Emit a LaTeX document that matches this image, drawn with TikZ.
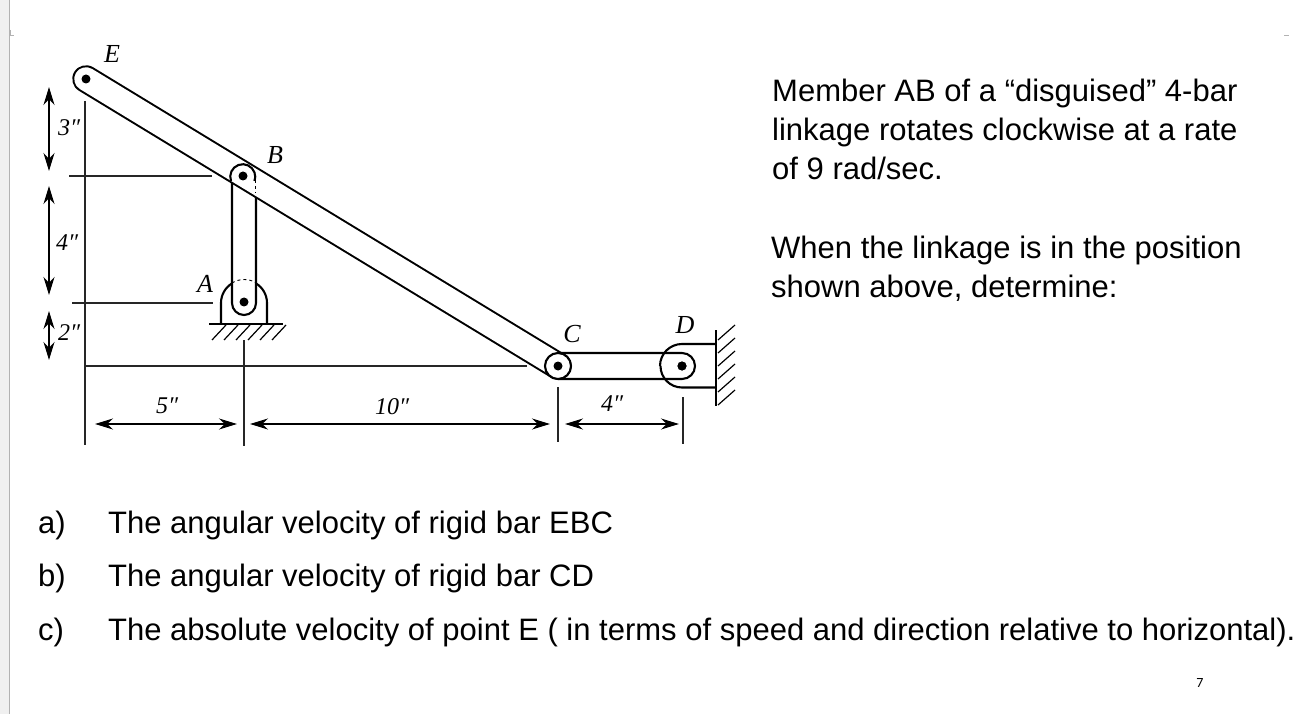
\documentclass[tikz,border=0pt]{standalone}
\usepackage{fontspec}
\setmainfont{Liberation Sans}
\newfontfamily\dimfont{Liberation Serif}
\newfontfamily\pagefont{Carlito}
\usetikzlibrary{arrows.meta,calc,positioning}

\tikzset{
    pin/.style={fill=black, circle, inner sep=0pt, minimum size=9pt},
    bar/.style={line width=2.1pt},
    extline/.style={line width=1.1pt, draw=black!85},
    dimline/.style={line width=1.4pt, {Stealth[length=18pt,width=11pt]}-{Stealth[length=18pt,width=11pt]}},
    dimlabel/.style={font=\dimfont\itshape\fontsize{24}{24}\selectfont, inner sep=0pt},
    ptlabel/.style={font=\dimfont\itshape\fontsize{26}{26}\selectfont, inner sep=0pt},
    body/.style={font=\fontsize{31}{39}\selectfont, align=left, anchor=north west, inner sep=0pt},
    item/.style={font=\fontsize{31}{31}\selectfont, anchor=base west, inner sep=0pt}
}

\begin{document}
\begin{tikzpicture}[x=1pt, y=-1pt]
    \useasboundingbox (0,0) rectangle (1302,714);
    % slide edge
    \fill[black!6] (0,0) rectangle (9,714);
    \draw[black!30, line width=0.8pt] (9.5,0) -- (9.5,714);
    \draw[black!30, line width=0.6pt] (10,35) -- (14,35) (10,30) -- (10,35);
    \draw[black!30, line width=0.6pt] (1284,35) -- (1289,35);

    % pins
    \node[pin] (E) at (86,79) {};
    \node[pin] (B) at (243,176) {};
    \node[pin] (A) at (244,302) {};
    \node[pin] (C) at (558,366) {};
    \node[pin] (D) at (682,366) {};

    % extension lines
    \coordinate (ext top) at (85,101);
    \coordinate (ext bottom) at (85,445);
    \coordinate (ext B) at (69,176);
    \coordinate (ext Bend) at (212,176);
    \coordinate (ext A) at (72,303);
    \coordinate (ext Aend) at (213,303);
    \coordinate (ext C) at (85,366);
    \coordinate (ext Cend) at (527,366);
    \coordinate (ext m top) at (244,340);
    \coordinate (ext m bottom) at (244,446);
    \coordinate (ext n top) at (558,387);
    \coordinate (ext n bottom) at (558,442);
    \coordinate (ext k top) at (683,397);
    \coordinate (ext k bottom) at (683,444);
    \draw[extline] (ext top) -- (ext bottom);
    \draw[extline] (ext B) -- (ext Bend);
    \draw[extline] (ext A) -- (ext Aend);
    \draw[extline] (ext C) -- (ext Cend);
    \draw[extline] (ext m top) -- (ext m bottom);
    \draw[extline] (ext n top) -- (ext n bottom);
    \draw[extline] (ext k top) -- (ext k bottom);

    % link AB with its base
    \draw[bar] (232,180) -- (232,303) arc[start angle=180, end angle=0, radius=12] -- (256,197);
    \draw[bar] (221,324) -- (221,303) arc[start angle=180, end angle=238, radius=23];
    \draw[bar] (267,324) -- (267,303) arc[start angle=0, end angle=-58, radius=23];
    \draw[line width=0.9pt, dashed] (232,283) arc[start angle=-122, end angle=-58, radius=23];
    \draw[line width=2.1pt] (209,324) -- (283,324);
    \foreach \hx in {212,224,...,272}
      \draw[line width=1.2pt] (\hx,340) -- (\hx+14,325);

    % link CD and its wall bracket
    \draw[bar] (558,353) -- (682,353) arc[start angle=-90, end angle=90, radius=13] -- (558,379);
    \draw[bar] (716,344) -- (682,344) arc[start angle=-90, end angle=-180, radius=22];
    \draw[bar] (716,387.5) -- (682,387.5) arc[start angle=90, end angle=180, radius=21.5];
    \draw[line width=2pt] (716,330) -- (716,406);
    \foreach \hy in {340,353,...,405}
      \draw[line width=1.2pt] (718,\hy) -- (735,\hy-15);

    % long bar
    \draw[line width=27.5pt, line cap=round] (E.center) -- (C.center);
    \draw[white, line width=23.5pt, line cap=round] (E.center) -- (C.center);
    \draw[bar] (231,181) arc[start angle=-200, end angle=20, radius=12.5];
    \draw[line width=1pt, dashed] (255.5,180) -- (255.5,193);
    \draw[bar, fill=white] (C) circle[radius=13];
    \node[pin] at (E.center) {};
    \node[pin] at (B.center) {};
    \node[pin] at (C.center) {};
    \node[pin] at (D.center) {};

    % dimensions
    \coordinate (v1) at (49,87);
    \coordinate (v2) at (49,171);
    \coordinate (v3) at (49,186);
    \coordinate (v4) at (49,295);
    \coordinate (v5) at (49,311);
    \coordinate (v6) at (49,360);
    \coordinate (h1) at (95,424);
    \coordinate (h2) at (237,424);
    \coordinate (h3) at (250,424);
    \coordinate (h4) at (550,424);
    \coordinate (h5) at (565,424);
    \coordinate (h6) at (679,424);
    \draw[dimline] (v1) -- (v2);
    \draw[dimline] (v3) -- (v4);
    \draw[dimline] (v5) -- (v6);
    \draw[dimline] (h1) -- (h2);
    \draw[dimline] (h3) -- (h4);
    \draw[dimline] (h5) -- (h6);

    % labels
    \node[dimlabel] (dim3) at (69,128) {3″};
    \node[dimlabel] (dim4) at (67,243) {4″};
    \node[dimlabel] (dim2) at (69,333) {2″};
    \node[dimlabel] (dim5) at (167,406) {5″};
    \node[dimlabel] (dim10) at (392,407) {10″};
    \node[dimlabel] (dim4b) at (612,404) {4″};
    \node[ptlabel] (labelE) at (112,54) {E};
    \node[ptlabel] (labelB) at (275,155) {B};
    \node[ptlabel] (labelA) at (205,284) {A};
    \node[ptlabel] (labelC) at (572,334) {C};
    \node[ptlabel] (labelD) at (685,325) {D};

    % text
    \node[body] (intro) at (772,79) {Member AB of a “disguised” 4-bar\\linkage rotates clockwise at a rate\\of 9 rad/sec.};
    \node[body] (when) at (771,236) {When the linkage is in the position\\shown above, determine:};
    \node[item] (a) at (38,533) {a)};
    \node[item] (b) at (38,586) {b)};
    \node[item] (c) at (38,640) {c)};
    \node[item] (parta) at (108,533) {The angular velocity of rigid bar EBC};
    \node[item] (partb) at (108,586) {The angular velocity of rigid bar CD};
    \node[item] (partc) at (108,640) {The absolute velocity of point E ( in terms of speed and direction relative to horizontal).};
    \node[font=\pagefont\fontsize{14}{14}\selectfont, inner sep=0pt] (page) at (1200,683) {7};
\end{tikzpicture}
\end{document}
